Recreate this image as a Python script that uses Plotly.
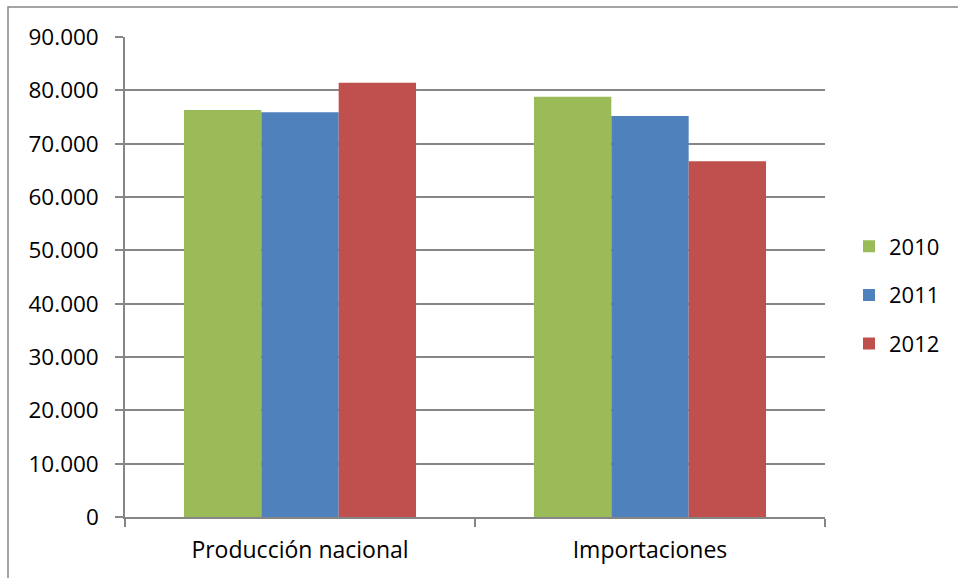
import plotly.graph_objects as go

# Categories and yearly values (units)
categories = ["Producción nacional", "Importaciones"]
years = ["2010", "2011", "2012"]
values_2010 = [76300, 78800]
values_2011 = [75900, 75200]
values_2012 = [81400, 66700]
y_ticks = [0, 10000, 20000, 30000, 40000, 50000, 60000, 70000, 80000, 90000]

colors = {"2010": "#9BBB59", "2011": "#4F81BD", "2012": "#C0504D"}
series = {"2010": values_2010, "2011": values_2011, "2012": values_2012}

font_family = "Open Sans, Lato, sans-serif"

fig = go.Figure()
for yr in years:
    fig.add_trace(go.Bar(
        x=categories,
        y=series[yr],
        name=yr,
        legendgroup=yr,
        marker=dict(color=colors[yr], line=dict(width=0)),
    ))

W, H = 958, 578
L, R, T, B = 125, 133, 37, 61
pw, ph = W - L - R, H - T - B

fig.update_layout(
    width=W,
    height=H,
    margin=dict(l=L, r=R, t=T, b=B, pad=0, autoexpand=False),
    paper_bgcolor="white",
    plot_bgcolor="white",
    barmode="group",
    bargap=0.337,
    bargroupgap=0,
    separators=",.",
    font=dict(family=font_family, size=22, color="black"),
    showlegend=True,
    legend=dict(
        xref="container",
        yref="container",
        x=849 / W,
        y=1 - 295 / H,
        xanchor="left",
        yanchor="middle",
        font=dict(size=22, color="black"),
        itemwidth=30,
        tracegroupgap=17,
        traceorder="grouped",
        bgcolor="rgba(0,0,0,0)",
    ),
    xaxis=dict(
        showline=True,
        linecolor="#868686",
        linewidth=1.5,
        ticks="outside",
        tickson="boundaries",
        ticklen=8,
        tickcolor="#868686",
        tickwidth=1.5,
        showgrid=False,
        tickfont=dict(size=23),
        ticklabelstandoff=12,
    ),
    yaxis=dict(
        range=[0, 90000],
        tickvals=y_ticks,
        tickformat=",d",
        showline=True,
        linecolor="#868686",
        linewidth=1.5,
        ticks="outside",
        ticklen=8,
        tickcolor="#868686",
        tickwidth=1.5,
        showgrid=True,
        gridcolor="#868686",
        gridwidth=1.5,
        zeroline=False,
        tickfont=dict(size=22.5),
        ticklabelstandoff=12,
    ),
    shapes=[
        # chart frame (runs past right and bottom edges of the page)
        dict(
            type="rect",
            xref="paper", yref="paper",
            x0=(8 - L) / pw, x1=(W + 20 - L) / pw,
            y0=-(B + 20) / ph, y1=(517 - 7) / ph,
            line=dict(color="#868686", width=1.5),
            fillcolor="rgba(0,0,0,0)",
            layer="below",
        )
    ],
)

fig.write_html("out.html")
